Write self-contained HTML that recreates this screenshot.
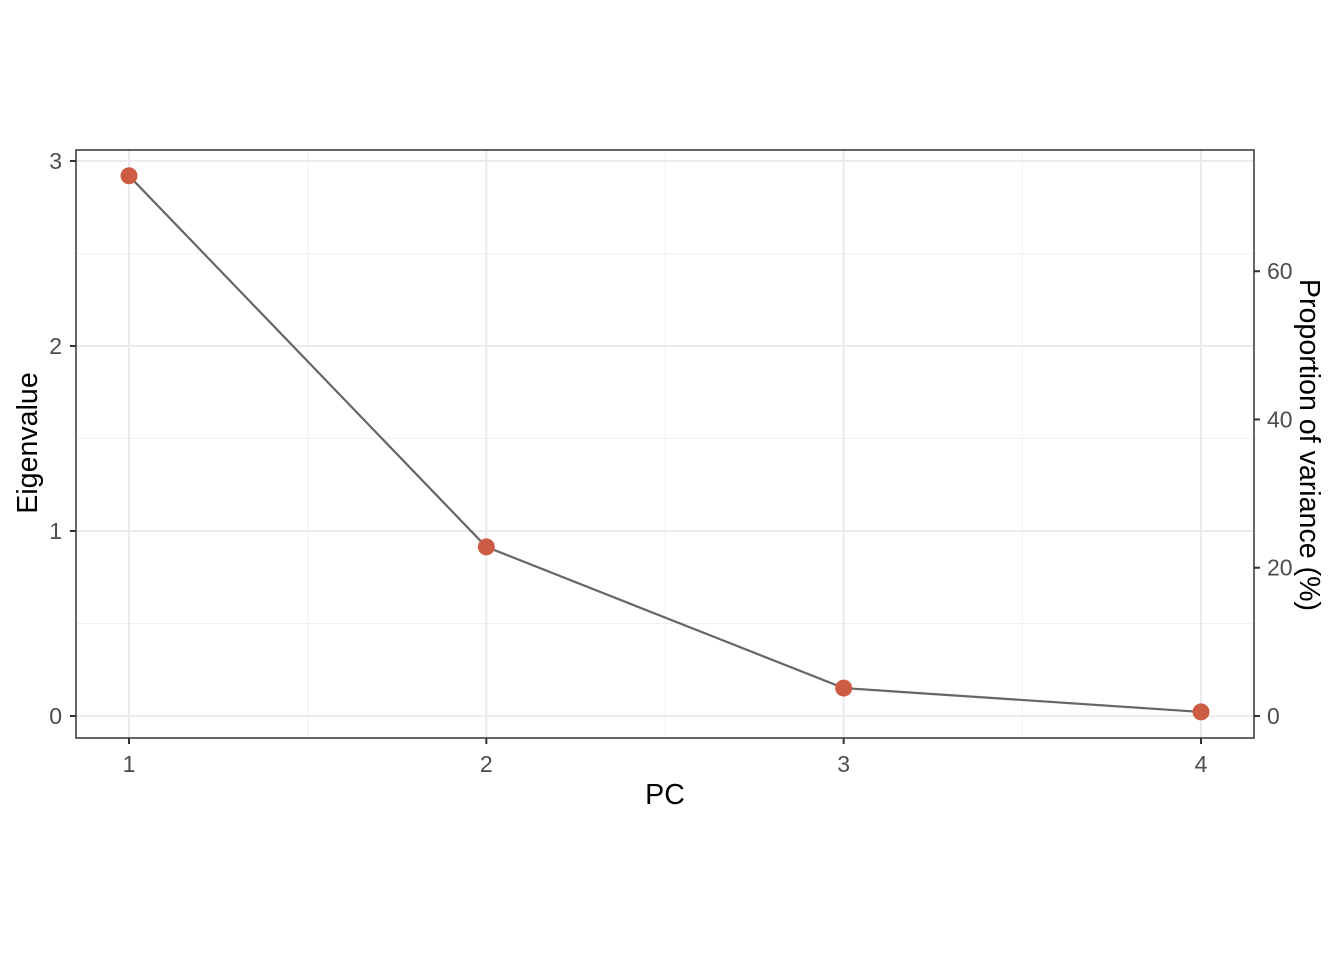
<!DOCTYPE html>
<html><head><meta charset="utf-8"><style>
body{margin:0;background:#fff}
text{font-family:"Liberation Sans",sans-serif}
</style></head><body>
<svg id="c" width="1344" height="960" xmlns="http://www.w3.org/2000/svg"></svg>
<script>
const categories=[1,2,3,4];
const eigenvalues=[2.92,0.914,0.151,0.022];
const yTicks=[0,1,2,3];
const yMinor=[0.5,1.5,2.5];
const rightTicks=[0,20,40,60];
const xMinor=[1.5,2.5,3.5];
const L=76,R=1254,T=150,B=738;
const X=v=>129+(v-1)*(1201-129)/3;
const Y=v=>716-v*185;
const total=eigenvalues.reduce((a,b)=>a+b,0);
const YP=p=>Y(p/100*total);
const s=document.getElementById('c');
const ns='http://www.w3.org/2000/svg';
function mk(t,a,txt){const e=document.createElementNS(ns,t);for(const k in a)e.setAttribute(k,a[k]);if(txt!=null)e.textContent=txt;s.appendChild(e);return e;}
yMinor.forEach(v=>{const e=mk('line',{x1:L,x2:R,y1:Y(v),y2:Y(v),stroke:'#f0f0f0','stroke-width':1});

});
xMinor.forEach(v=>{const e=mk('line',{x1:X(v),x2:X(v),y1:T,y2:B,stroke:'#f0f0f0','stroke-width':1});

});
yTicks.forEach(v=>{const e=mk('line',{x1:L,x2:R,y1:Y(v),y2:Y(v),stroke:'#ebebeb','stroke-width':2});


const t=mk('line',{x1:L-6,x2:L,y1:Y(v),y2:Y(v),stroke:'#333','stroke-width':2});


const l=mk('text',{x:L-14,y:Y(v)+8,'text-anchor':'end','font-size':23,fill:'#4d4d4d'},v);

});
categories.forEach(v=>{const e=mk('line',{x1:X(v),x2:X(v),y1:T,y2:B,stroke:'#ebebeb','stroke-width':2});


const t=mk('line',{x1:X(v),x2:X(v),y1:B,y2:B+6,stroke:'#333','stroke-width':2});


const l=mk('text',{x:X(v),y:B+34,'text-anchor':'middle','font-size':23,fill:'#4d4d4d'},v);

});
rightTicks.forEach(v=>{const t=mk('line',{x1:R,x2:R+6,y1:YP(v),y2:YP(v),stroke:'#333','stroke-width':2});


const l=mk('text',{x:R+13,y:YP(v)+8,'font-size':23,fill:'#4d4d4d'},v);

});
const line=mk('polyline',{points:categories.map((c,i)=>X(c)+','+Y(eigenvalues[i])).join(' '),fill:'none',stroke:'#666','stroke-width':2.2});


categories.forEach((c,i)=>{const p=mk('circle',{cx:X(c),cy:Y(eigenvalues[i]),r:8.5,fill:'#cd5c45'});

});
const fr=mk('rect',{x:L,y:T,width:R-L,height:B-T,fill:'none',stroke:'#333','stroke-width':1.5});


const xt=mk('text',{x:(L+R)/2,y:804,'text-anchor':'middle','font-size':28.6,fill:'#000'},'PC');


const yt=mk('text',{x:0,y:0,transform:'translate(37,443) rotate(-90)','text-anchor':'middle','font-size':28.6,fill:'#000'},'Eigenvalue');


const rt=mk('text',{x:0,y:0,transform:'translate(1300,445) rotate(90)','text-anchor':'middle','font-size':28.6,fill:'#000'},'Proportion of variance (%)');


</script>
</body></html>
